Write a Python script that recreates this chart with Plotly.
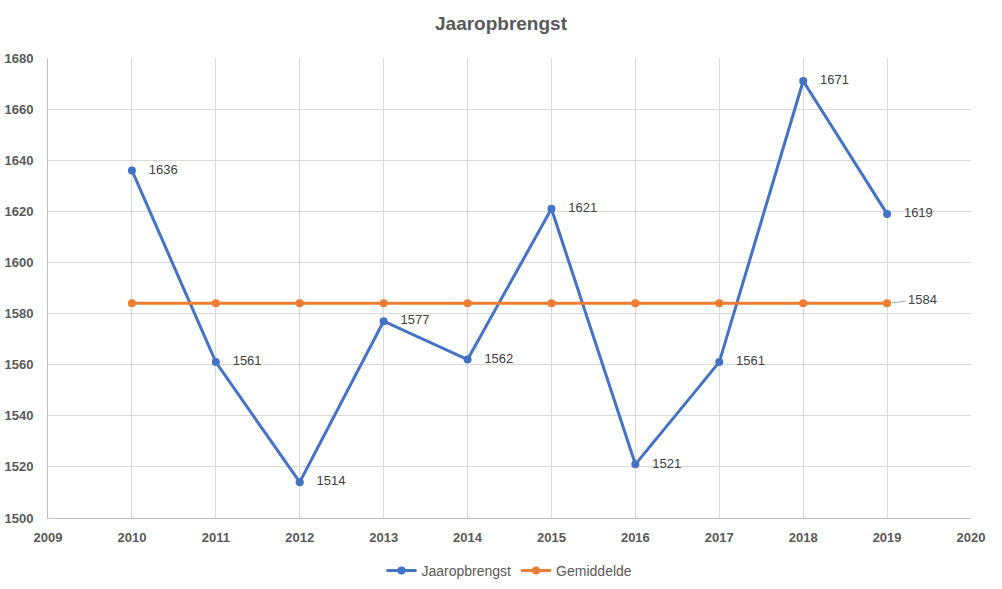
import plotly.graph_objects as go

years = [2010, 2011, 2012, 2013, 2014, 2015, 2016, 2017, 2018, 2019]
opbrengst = [1636, 1561, 1514, 1577, 1562, 1621, 1521, 1561, 1671, 1619]
gemiddelde = [1584] * 10
y_ticks = list(range(1500, 1681, 20))
x_ticks = list(range(2009, 2021))

blue = "#4472C4"
orange = "#ED7D31"
font_family = "Liberation Sans, Arial, sans-serif"

fig = go.Figure()
fig.add_trace(go.Scatter(
    x=years, y=opbrengst, name="Jaaropbrengst",
    mode="lines+markers+text",
    line=dict(color=blue, width=3),
    marker=dict(color=blue, size=8),
    text=["   " + str(v) for v in opbrengst],
    textposition="middle right",
    textfont=dict(family=font_family, size=13, color="#404040"),
))
fig.add_trace(go.Scatter(
    x=years, y=gemiddelde, name="Gemiddelde",
    mode="lines+markers",
    line=dict(color=orange, width=3),
    marker=dict(color=orange, size=8),
))
fig.add_annotation(
    x=years[-1], y=gemiddelde[-1], text=str(gemiddelde[-1]),
    showarrow=True, arrowhead=0, arrowwidth=1, arrowcolor="#a6a6a6",
    ax=35, ay=-4, standoff=5,
    font=dict(family=font_family, size=13, color="#404040"),
)

fig.update_layout(
    width=1002, height=589,
    margin=dict(l=48, r=31, t=58, b=71, autoexpand=False),
    paper_bgcolor="white", plot_bgcolor="white",
    title=dict(text="<b>Jaaropbrengst</b>", x=0.5, xanchor="center", y=0.961, yanchor="middle",
               font=dict(family=font_family, size=19, color="#595959")),
    font=dict(family=font_family, color="#595959"),
    showlegend=True,
    legend=dict(orientation="h", x=0.5, xanchor="center", y=-0.115, yanchor="middle",
                font=dict(family=font_family, size=14, color="#595959")),
)
fig.update_xaxes(
    range=[2009, 2020], tickvals=x_ticks, ticktext=["<b>%d</b>" % t for t in x_ticks],
    showgrid=True, gridcolor="#d9d9d9", gridwidth=1,
    showline=True, linecolor="#bfbfbf", linewidth=1, automargin=False,
    zeroline=False, ticks="", ticklabelstandoff=7, tickfont=dict(size=13, color="#595959"),
)
fig.update_yaxes(
    range=[1500, 1680], tickvals=y_ticks, ticktext=["<b>%d</b>" % t for t in y_ticks],
    showgrid=True, gridcolor="#d9d9d9", gridwidth=1,
    showline=True, linecolor="#bfbfbf", linewidth=1, automargin=False,
    zeroline=False, ticks="", ticklabelstandoff=11, tickfont=dict(size=13, color="#595959"),
)

fig.write_html("out.html", config={"displayModeBar": False},
               post_script="document.body.style.margin='0';")
